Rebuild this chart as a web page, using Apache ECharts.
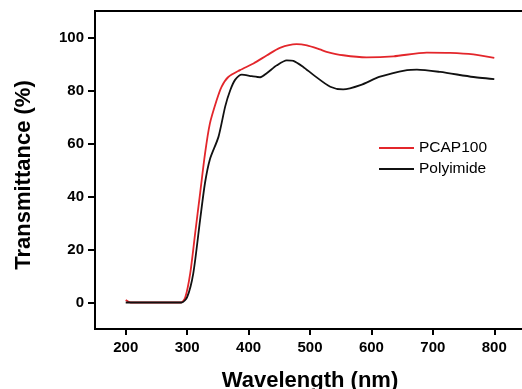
<!DOCTYPE html>
<html><head><meta charset="utf-8">
<script src="https://cdn.jsdelivr.net/npm/echarts@6/dist/echarts.min.js"></script>
<style>html,body{margin:0;padding:0;background:#fff}#c{width:522px;height:389px}</style>
</head><body><div id="c"></div>
<script>
var xTicks = [200, 300, 400, 500, 600, 700, 800];
var yTicks = [0, 20, 40, 60, 80, 100];
var pcapWl = [200, 208, 290, 297, 305, 313, 321, 329, 337, 348, 356, 367, 386, 408, 430, 451, 478, 495, 516, 527, 554, 592, 636, 690, 728, 766, 800];
var pcapT  = [0.9, 0, 0, 2, 11, 26, 41, 56, 67.5, 76.3, 81.4, 85.1, 87.7, 90.2, 93.3, 96.1, 97.5, 97.0, 95.5, 94.6, 93.3, 92.5, 92.9, 94.3, 94.2, 93.6, 92.3];
var piWl = [200, 291, 300, 310, 321, 329, 337, 351, 362, 370, 378, 389, 405, 419, 430, 446, 462, 473, 489, 506, 533, 554, 582, 614, 658, 674, 712, 766, 800];
var piT  = [0, 0, 2, 11, 31, 45, 54, 62.5, 74, 80, 84, 86, 85.4, 85, 86.6, 89.5, 91.4, 91.2, 88.9, 85.8, 81.4, 80.4, 82, 85.2, 87.7, 87.9, 87, 85.1, 84.3];
var seriesNames = ['PCAP100', 'Polyimide'];

function pairs(a, b) { return a.map(function (v, i) { return [v, b[i]]; }); }
var font = '"Liberation Sans", Arial, sans-serif';
var chart = echarts.init(document.getElementById('c'));
chart.setOption({
  animation: false,
  backgroundColor: '#fff',
  grid: { left: 95, top: 11, width: 430, height: 318, show: true, borderColor: '#000', borderWidth: 2, backgroundColor: 'transparent', outerBoundsMode: 'none', containLabel: false },
  legend: {
    left: 374, top: 135, orient: 'vertical', itemGap: 5, itemWidth: 35, itemHeight: 2,
    icon: 'rect',
    textStyle: { fontFamily: font, fontSize: 15.5, color: '#000' },
    data: seriesNames
  },
  xAxis: {
    type: 'value', min: 150, max: 850,
    name: 'Wavelength (nm)', nameLocation: 'middle', nameGap: 41,
    nameTextStyle: { fontFamily: font, fontSize: 22, fontWeight: 'bold', color: '#000' },
    axisLine: { onZero: false, lineStyle: { color: '#000', width: 2 } },
    axisTick: { show: true, length: 6, lineStyle: { color: '#000', width: 2 }, customValues: xTicks },
    axisLabel: { fontFamily: font, fontSize: 15, fontWeight: 'bold', color: '#000', margin: 11, customValues: xTicks },
    splitLine: { show: false }
  },
  yAxis: {
    type: 'value', min: -10, max: 110,
    name: 'Transmittance (%)', nameLocation: 'middle', nameGap: 60,
    nameTextStyle: { fontFamily: font, fontSize: 22, fontWeight: 'bold', color: '#000', padding: [0, 0, 0, -10] },
    axisLine: { onZero: false, lineStyle: { color: '#000', width: 2 } },
    axisTick: { show: true, length: 7, lineStyle: { color: '#000', width: 2 }, customValues: yTicks },
    axisLabel: { fontFamily: font, fontSize: 15, fontWeight: 'bold', color: '#000', margin: 11, customValues: yTicks },
    splitLine: { show: false }
  },
  series: [
    { name: seriesNames[0], type: 'line', data: pairs(pcapWl, pcapT), showSymbol: false, smooth: 0.25, color: '#e3262b', lineStyle: { width: 1.8, color: '#e3262b' }, z: 2 },
    { name: seriesNames[1], type: 'line', data: pairs(piWl, piT), showSymbol: false, smooth: 0.25, color: '#111', lineStyle: { width: 1.8, color: '#111' }, z: 3 }
  ]
});
</script></body></html>
